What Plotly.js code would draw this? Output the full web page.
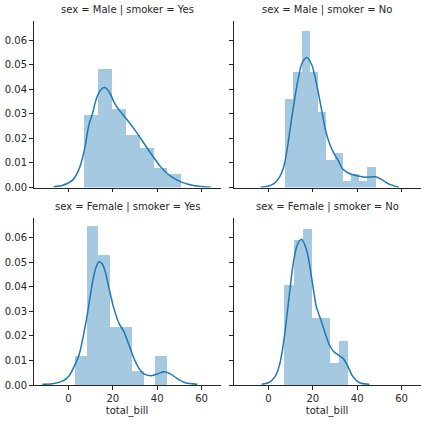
<!DOCTYPE html>
<html>
<head>
<meta charset="utf-8">
<script src="https://cdn.plot.ly/plotly-3.0.1.min.js"></script>
<style>html,body{margin:0;padding:0;background:#fff;}#chart{width:424px;height:424px;}</style>
</head>
<body>
<div id="chart"></div>
<script>
// Facet titles
const facetTitles = ["sex = Male | smoker = Yes", "sex = Male | smoker = No", "sex = Female | smoker = Yes", "sex = Female | smoker = No"];
const xTickVals = [0, 20, 40, 60];
const yTickVals = [0, 0.01, 0.02, 0.03, 0.04, 0.05, 0.06];
const xLabel = "total_bill";

// Histogram bin edges and densities
const maleYesEdges = [7.25, 13.47, 19.69, 25.92, 32.14, 38.36, 44.59, 50.81];
const maleYesDensity = [0.0295, 0.0482, 0.0321, 0.0214, 0.0161, 0.0080, 0.0054];
const maleNoEdges = [7.51, 11.22, 14.93, 18.64, 22.35, 26.06, 29.78, 33.49, 37.20, 40.91, 44.62, 48.33];
const maleNoDensity = [0.0361, 0.0472, 0.0639, 0.0472, 0.0306, 0.0111, 0.0139, 0.0028, 0.0056, 0.0028, 0.0083];
const femaleYesEdges = [3.07, 8.22, 13.38, 18.53, 23.69, 28.84, 33.99, 39.15, 44.30];
const femaleYesDensity = [0.0118, 0.0647, 0.0529, 0.0235, 0.0235, 0.0059, 0, 0.0118];
const femaleNoEdges = [7.25, 11.33, 15.42, 19.50, 23.58, 27.67, 31.75, 35.83];
const femaleNoDensity = [0.0408, 0.0590, 0.0635, 0.0272, 0.0272, 0.0091, 0.0181];

// KDE curves
const maleYesKdeX = [-6.7, -2.5, 1.9, 4.9, 7.2, 9.4, 10.9, 12.4, 14.4, 16.3, 18.4, 20.7, 22.9, 25.6, 28.9, 31.9, 34.9, 38.2, 41.3, 44.5, 47.6, 50.7, 54.3, 58.8, 64.1];
const maleYesKdeY = [0.0003, 0.0009, 0.0030, 0.0077, 0.0152, 0.0261, 0.0301, 0.0356, 0.0396, 0.0407, 0.0389, 0.0345, 0.0315, 0.0285, 0.0247, 0.0209, 0.0168, 0.0125, 0.0087, 0.0057, 0.0037, 0.0023, 0.0012, 0.0005, 0.0001];
const maleNoKdeX = [-3.4, -0.4, 2.5, 4.7, 6.7, 8.4, 10.7, 12.9, 15.1, 17.3, 19.6, 21.8, 24.0, 25.9, 28.0, 29.6, 31.6, 33.3, 35.1, 37.3, 40.3, 43.3, 46.2, 48.7, 51.4, 54.4, 58.8];
const maleNoKdeY = [0.0001, 0.0005, 0.0016, 0.0037, 0.0077, 0.0152, 0.0294, 0.0417, 0.0505, 0.0529, 0.0498, 0.0417, 0.0315, 0.0227, 0.0168, 0.0138, 0.0107, 0.0077, 0.0064, 0.0054, 0.0047, 0.0042, 0.0043, 0.0043, 0.0030, 0.0014, 0.0001];
const femaleYesKdeX = [-11.7, -7.2, -2.7, 0.3, 2.2, 4.8, 8.1, 10.8, 12.3, 13.8, 15.3, 16.8, 18.3, 20.5, 22.8, 25.0, 27.3, 29.5, 31.8, 34.0, 37.0, 40.0, 43.0, 46.0, 49.0, 52.7, 58.0];
const femaleYesKdeY = [0.0003, 0.0005, 0.0016, 0.0037, 0.0068, 0.0122, 0.0265, 0.0414, 0.0475, 0.0502, 0.0493, 0.0455, 0.0393, 0.0312, 0.0251, 0.0217, 0.0163, 0.0109, 0.0068, 0.0045, 0.0038, 0.0045, 0.0054, 0.0045, 0.0026, 0.0009, 0.0003];
const femaleNoKdeX = [-3.0, 0.0, 3.0, 5.2, 7.0, 9.0, 11.2, 13.0, 14.9, 17.2, 18.7, 20.1, 21.6, 23.9, 26.1, 27.5, 29.4, 31.5, 33.6, 35.5, 38.1, 41.0, 45.5];
const femaleNoKdeY = [0.0003, 0.0009, 0.0034, 0.0088, 0.0183, 0.0332, 0.0495, 0.0570, 0.0593, 0.0550, 0.0482, 0.0400, 0.0319, 0.0258, 0.0197, 0.0163, 0.0136, 0.0122, 0.0109, 0.0081, 0.0034, 0.0009, 0.0003];

const panels = [
  {edges: maleYesEdges, dens: maleYesDensity, kx: maleYesKdeX, ky: maleYesKdeY},
  {edges: maleNoEdges, dens: maleNoDensity, kx: maleNoKdeX, ky: maleNoKdeY},
  {edges: femaleYesEdges, dens: femaleYesDensity, kx: femaleYesKdeX, ky: femaleYesKdeY},
  {edges: femaleNoEdges, dens: femaleNoDensity, kx: femaleNoKdeX, ky: femaleNoKdeY}
];

const W = 424, H = 424;
const colX = [[33.5, 220.5], [233.5, 420.5]];
const rowY = [[20.5, 187.5], [218, 385]];
const dark = '#262626';
const font = 'DejaVu Sans, sans-serif';

const traces = [];
const layout = {
  width: W, height: H,
  margin: {l: 0, r: 0, t: 0, b: 0},
  paper_bgcolor: '#fff', plot_bgcolor: 'rgba(0,0,0,0)',
  showlegend: false,
  font: {family: font, size: 10, color: dark},
  annotations: []
};

panels.forEach((p, i) => {
  const ax = i === 0 ? '' : String(i + 1);
  const col = i % 2, row = Math.floor(i / 2);
  const centers = [], widths = [];
  for (let k = 0; k < p.dens.length; k++) {
    centers.push((p.edges[k] + p.edges[k + 1]) / 2);
    widths.push(p.edges[k + 1] - p.edges[k]);
  }
  traces.push({
    type: 'bar', x: centers, y: p.dens, width: widths,
    marker: {color: 'rgba(31,119,180,0.4)', line: {width: 0}},
    xaxis: 'x' + ax, yaxis: 'y' + ax, hoverinfo: 'skip'
  });
  traces.push({
    type: 'scatter', mode: 'lines', x: p.kx, y: p.ky,
    line: {color: '#1f77b4', width: 1.5, shape: 'spline', smoothing: 0.8},
    xaxis: 'x' + ax, yaxis: 'y' + ax, hoverinfo: 'skip'
  });
  layout['xaxis' + ax] = {
    domain: [colX[col][0] / W, colX[col][1] / W],
    anchor: 'y' + ax,
    range: [-15.7, 68.5],
    showgrid: false, zeroline: false,
    showline: true, linecolor: dark, linewidth: 1,
    ticks: 'outside', ticklen: 3.5, tickwidth: 1, tickcolor: dark,
    tickvals: xTickVals,
    showticklabels: row === 1,
    tickfont: {family: font, size: 10, color: dark},
    title: row === 1 ? {text: xLabel, font: {family: font, size: 10, color: dark}, standoff: 4} : {text: ''}
  };
  layout['yaxis' + ax] = {
    domain: [1 - rowY[row][1] / H, 1 - rowY[row][0] / H],
    anchor: 'x' + ax,
    range: [0, 0.068],
    showgrid: false, zeroline: false,
    showline: true, linecolor: dark, linewidth: 1,
    ticks: 'outside', ticklen: 3.5, tickwidth: 1, tickcolor: dark,
    tickvals: yTickVals, tickformat: '.2f',
    showticklabels: col === 0,
    tickfont: {family: font, size: 10, color: dark}
  };
  layout.annotations.push({
    text: facetTitles[i], xref: 'paper', yref: 'paper',
    x: (colX[col][0] + colX[col][1]) / 2 / W,
    y: 1 - rowY[row][0] / H, yshift: 3,
    xanchor: 'center', yanchor: 'bottom', showarrow: false,
    font: {family: font, size: 10, color: dark}
  });
});
layout.bargap = 0;

Plotly.newPlot('chart', traces, layout, {staticPlot: true, displayModeBar: false});
</script>
</body>
</html>
